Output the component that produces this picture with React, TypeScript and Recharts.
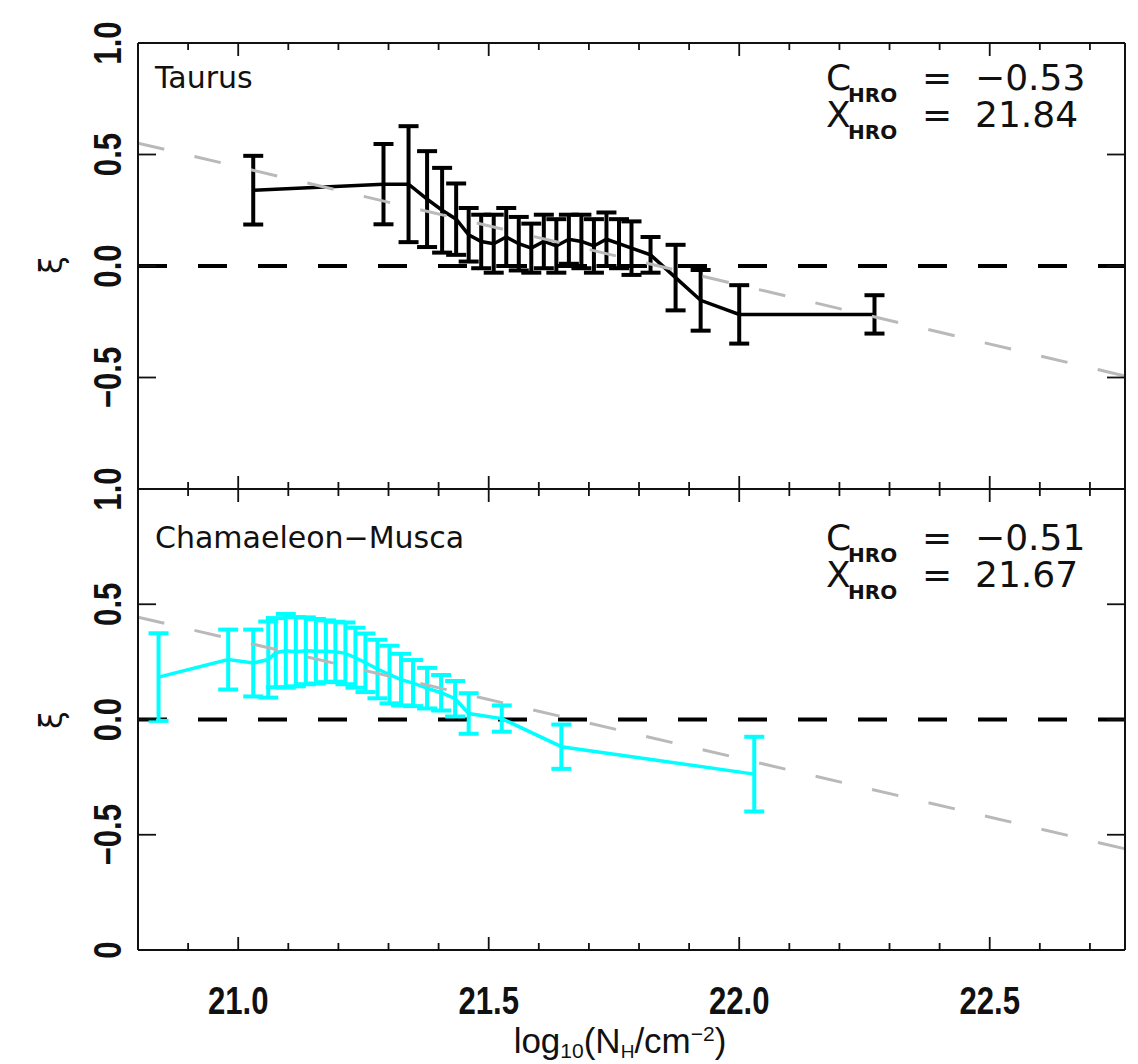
import React from 'react';
import { ComposedChart, Line, XAxis, YAxis, ErrorBar, ReferenceLine } from 'recharts';

// ---------- data ----------
// Taurus (top panel)
const taurusX = [21.03, 21.29, 21.34, 21.377, 21.407, 21.435, 21.46, 21.485, 21.51, 21.535, 21.56, 21.585, 21.61, 21.635, 21.66, 21.685, 21.71, 21.735, 21.76, 21.785, 21.823, 21.873, 21.923, 22.0, 22.27];
const taurusXi = [0.34, 0.367, 0.367, 0.3, 0.25, 0.21, 0.14, 0.11, 0.1, 0.13, 0.1, 0.08, 0.11, 0.09, 0.12, 0.11, 0.09, 0.12, 0.1, 0.08, 0.05, -0.052, -0.154, -0.217, -0.217];
const taurusErr = [0.154, 0.18, 0.26, 0.215, 0.19, 0.16, 0.12, 0.12, 0.13, 0.13, 0.12, 0.11, 0.12, 0.12, 0.11, 0.12, 0.12, 0.12, 0.11, 0.12, 0.08, 0.147, 0.136, 0.131, 0.086];

// Chamaeleon-Musca (bottom panel)
const chamX = [20.841, 20.98, 21.03, 21.06, 21.075, 21.095, 21.115, 21.135, 21.155, 21.175, 21.194, 21.214, 21.234, 21.254, 21.278, 21.302, 21.325, 21.349, 21.377, 21.405, 21.433, 21.46, 21.526, 21.645, 22.03];
const chamXi = [0.184, 0.26, 0.245, 0.26, 0.29, 0.298, 0.294, 0.298, 0.296, 0.296, 0.294, 0.287, 0.268, 0.246, 0.219, 0.195, 0.173, 0.158, 0.136, 0.116, 0.09, 0.026, 0.004, -0.118, -0.237];
const chamErr = [0.19, 0.13, 0.145, 0.165, 0.15, 0.16, 0.15, 0.145, 0.14, 0.134, 0.13, 0.134, 0.13, 0.127, 0.127, 0.125, 0.112, 0.1, 0.088, 0.077, 0.077, 0.088, 0.057, 0.096, 0.162];

// HRO fit lines (grey dashed), end points over the x range
const taurusFit = [{ x: 20.8, y: 0.551 }, { x: 22.77, y: -0.493 }];
const chamFit = [{ x: 20.8, y: 0.444 }, { x: 22.77, y: -0.561 }];

const xDomain = [20.8, 22.77];
const xTicks = [20.9, 21.0, 21.1, 21.2, 21.3, 21.4, 21.5, 21.6, 21.7, 21.8, 21.9, 22.0, 22.1, 22.2, 22.3, 22.4, 22.5, 22.6, 22.7];
const xMajorTicks = [21.0, 21.5, 22.0, 22.5];
const yTicks = [-1, -0.5, 0, 0.5, 1];
const topYLabels = ['', '\u22120.5', '0.0', '0.5', '1.0'];
const bottomYLabels = ['0', '\u22120.5', '0.0', '0.5', '1.0'];

const taurusData = taurusX.map((x, i) => ({ x, xi: taurusXi[i], e: taurusErr[i] }));
const chamData = chamX.map((x, i) => ({ x, xi: chamXi[i], e: chamErr[i] }));

const W = 1138;
const H = 1064;
const LEFT = 138;
const RIGHT = 1125;
const TOP1 = 43;
const MID = 489;
const BOT2 = 950;
const OVERLAP = 50;

const TICK_FONT = "'Liberation Sans', Arial, sans-serif";
const TEXT_FONT = "'DejaVu Sans', sans-serif";

const isMajorX = (v: number) => xMajorTicks.some((m) => Math.abs(m - v) < 1e-6);

const XTickBottom = (props: any) => {
  const { x, y, payload, showLabels } = props;
  const major = isMajorX(payload.value);
  return (
    <g>
      <line x1={x} x2={x} y1={y} y2={y - (major ? 13 : 7)} stroke="#111" strokeWidth={1.8} />
      {showLabels && major && (
        <text
          transform={`translate(${x},${y + 64}) scale(0.82,1)`}
          textAnchor="middle"
          fontFamily={TICK_FONT}
          fontWeight="bold"
          fontSize={38}
          fill="#111"
        >
          {payload.value.toFixed(1)}
        </text>
      )}
    </g>
  );
};

const XTickTop = (props: any) => {
  const { x, y, payload } = props;
  const major = isMajorX(payload.value);
  return <line x1={x} x2={x} y1={y} y2={y + (major ? 13 : 7)} stroke="#111" strokeWidth={1.8} />;
};

const YTickLeft = (props: any) => {
  const { x, y, payload, labels } = props;
  const idx = yTicks.findIndex((t) => Math.abs(t - payload.value) < 1e-6);
  const label = labels[idx];
  return (
    <g>
      <line x1={x} x2={x + 18} y1={y} y2={y} stroke="#111" strokeWidth={1.8} />
      {label && (
        <text
          transform={`translate(${x - 17},${y}) rotate(-90) scale(0.82,1)`}
          textAnchor="middle"
          fontFamily={TICK_FONT}
          fontWeight="bold"
          fontSize={38}
          fill="#111"
        >
          {label}
        </text>
      )}
    </g>
  );
};

const YTickRight = (props: any) => {
  const { x, y } = props;
  return <line x1={x} x2={x - 18} y1={y} y2={y} stroke="#111" strokeWidth={1.8} />;
};

type PanelProps = {
  data: { x: number; xi: number; e: number }[];
  color: string;
  fit: { x: number; y: number }[];
  yLabels: string[];
  showXLabels: boolean;
  top: number;
  height: number;
  margin: { top: number; right: number; bottom: number; left: number };
};

const Panel = ({ data, color, fit, yLabels, showXLabels, top, height, margin }: PanelProps) => (
  <div style={{ position: 'absolute', left: 0, top, width: W, height }}>
    <ComposedChart width={W} height={height} data={data} margin={margin}>
      <XAxis
        xAxisId="b"
        dataKey="x"
        type="number"
        domain={xDomain}
        allowDataOverflow
        ticks={xTicks}
        interval={0}
        height={1}
        tickSize={0}
        tickMargin={0}
        tickLine={false}
        axisLine={{ stroke: '#111', strokeWidth: 2 }}
        tick={<XTickBottom showLabels={showXLabels} />}
      />
      <XAxis
        xAxisId="t"
        orientation="top"
        dataKey="x"
        type="number"
        domain={xDomain}
        allowDataOverflow
        ticks={xTicks}
        interval={0}
        height={1}
        tickSize={0}
        tickMargin={0}
        tickLine={false}
        axisLine={{ stroke: '#111', strokeWidth: 2 }}
        tick={<XTickTop />}
      />
      <YAxis
        yAxisId="l"
        type="number"
        domain={[-1, 1]}
        allowDataOverflow
        ticks={yTicks}
        interval={0}
        width={1}
        tickSize={0}
        tickMargin={0}
        tickLine={false}
        axisLine={{ stroke: '#111', strokeWidth: 2 }}
        tick={<YTickLeft labels={yLabels} />}
      />
      <YAxis
        yAxisId="r"
        orientation="right"
        type="number"
        domain={[-1, 1]}
        allowDataOverflow
        ticks={yTicks}
        interval={0}
        width={1}
        tickSize={0}
        tickMargin={0}
        tickLine={false}
        axisLine={{ stroke: '#111', strokeWidth: 2 }}
        tick={<YTickRight />}
      />
      <ReferenceLine
        xAxisId="b"
        yAxisId="l"
        y={0}
        stroke="#000"
        strokeWidth={4}
        strokeDasharray="29 31"
      />
      <Line
        xAxisId="b"
        yAxisId="l"
        dataKey="xi"
        type="linear"
        stroke={color}
        strokeWidth={3.5}
        dot={false}
        isAnimationActive={false}
      >
        <ErrorBar dataKey="e" direction="y" width={10} stroke={color} strokeWidth={4} isAnimationActive={false} />
      </Line>
      <ReferenceLine
        xAxisId="b"
        yAxisId="l"
        segment={fit}
        stroke="#b9b9b9"
        strokeWidth={3}
        strokeDasharray="27 31"
        ifOverflow="hidden"
      />
    </ComposedChart>
  </div>
);

const Annot = ({ y, name, c, xv }: { y: number; name: string; c: string; xv: string }) => (
  <g fontFamily={TEXT_FONT} fill="#111">
    <text x={155} y={y - 2} fontSize={30}>{name}</text>
    <text x={826} y={y} fontSize={36}>C</text>
    <text x={848} y={y + 12} fontSize={20} fontWeight="bold">HRO</text>
    <text x={922} y={y} fontSize={36}>=</text>
    <text x={975} y={y} fontSize={36}>{c}</text>
    <text x={826} y={y + 37} fontSize={36}>X</text>
    <text x={848} y={y + 49} fontSize={20} fontWeight="bold">HRO</text>
    <text x={922} y={y + 37} fontSize={36}>=</text>
    <text x={975} y={y + 37} fontSize={36}>{xv}</text>
  </g>
);

export default function App() {
  return (
    <div style={{ position: 'absolute', left: 0, top: 0, width: W, height: H, background: '#fff', overflow: 'hidden' }}>
      <Panel
        data={taurusData}
        color="#000000"
        fit={taurusFit}
        yLabels={topYLabels}
        showXLabels={false}
        top={0}
        height={MID + 2}
        margin={{ top: TOP1 - 1, right: W - RIGHT - 1, bottom: 1, left: LEFT - 1 }}
      />
      <Panel
        data={chamData}
        color="#00ffff"
        fit={chamFit}
        yLabels={bottomYLabels}
        showXLabels={true}
        top={MID - OVERLAP}
        height={H - MID + OVERLAP}
        margin={{ top: OVERLAP - 1, right: W - RIGHT - 1, bottom: H - BOT2 - 1, left: LEFT - 1 }}
      />
      <svg width={W} height={H} style={{ position: 'absolute', left: 0, top: 0, pointerEvents: 'none' }}>
        <Annot y={90} name="Taurus" c={'\u22120.53'} xv="21.84" />
        <Annot y={550} name={'Chamaeleon\u2212Musca'} c={'\u22120.51'} xv="21.67" />
        <text transform="translate(62,265) rotate(-90)" textAnchor="middle" fontFamily={TEXT_FONT} fontSize={32} fill="#111">ξ</text>
        <text transform="translate(62,720) rotate(-90)" textAnchor="middle" fontFamily={TEXT_FONT} fontSize={32} fill="#111">ξ</text>
        <text x={620} y={1053} textAnchor="middle" fontFamily={TICK_FONT} fontSize={35} fill="#111">
          log<tspan fontSize={21} dy={5}>10</tspan>
          <tspan fontSize={35} dy={-5}>(N</tspan>
          <tspan fontSize={19} dy={5}>H</tspan>
          <tspan fontSize={35} dy={-5}>/cm</tspan>
          <tspan fontSize={21} dy={-12}>{'\u22122'}</tspan>
          <tspan fontSize={35} dy={12}>)</tspan>
        </text>
      </svg>
    </div>
  );
}
